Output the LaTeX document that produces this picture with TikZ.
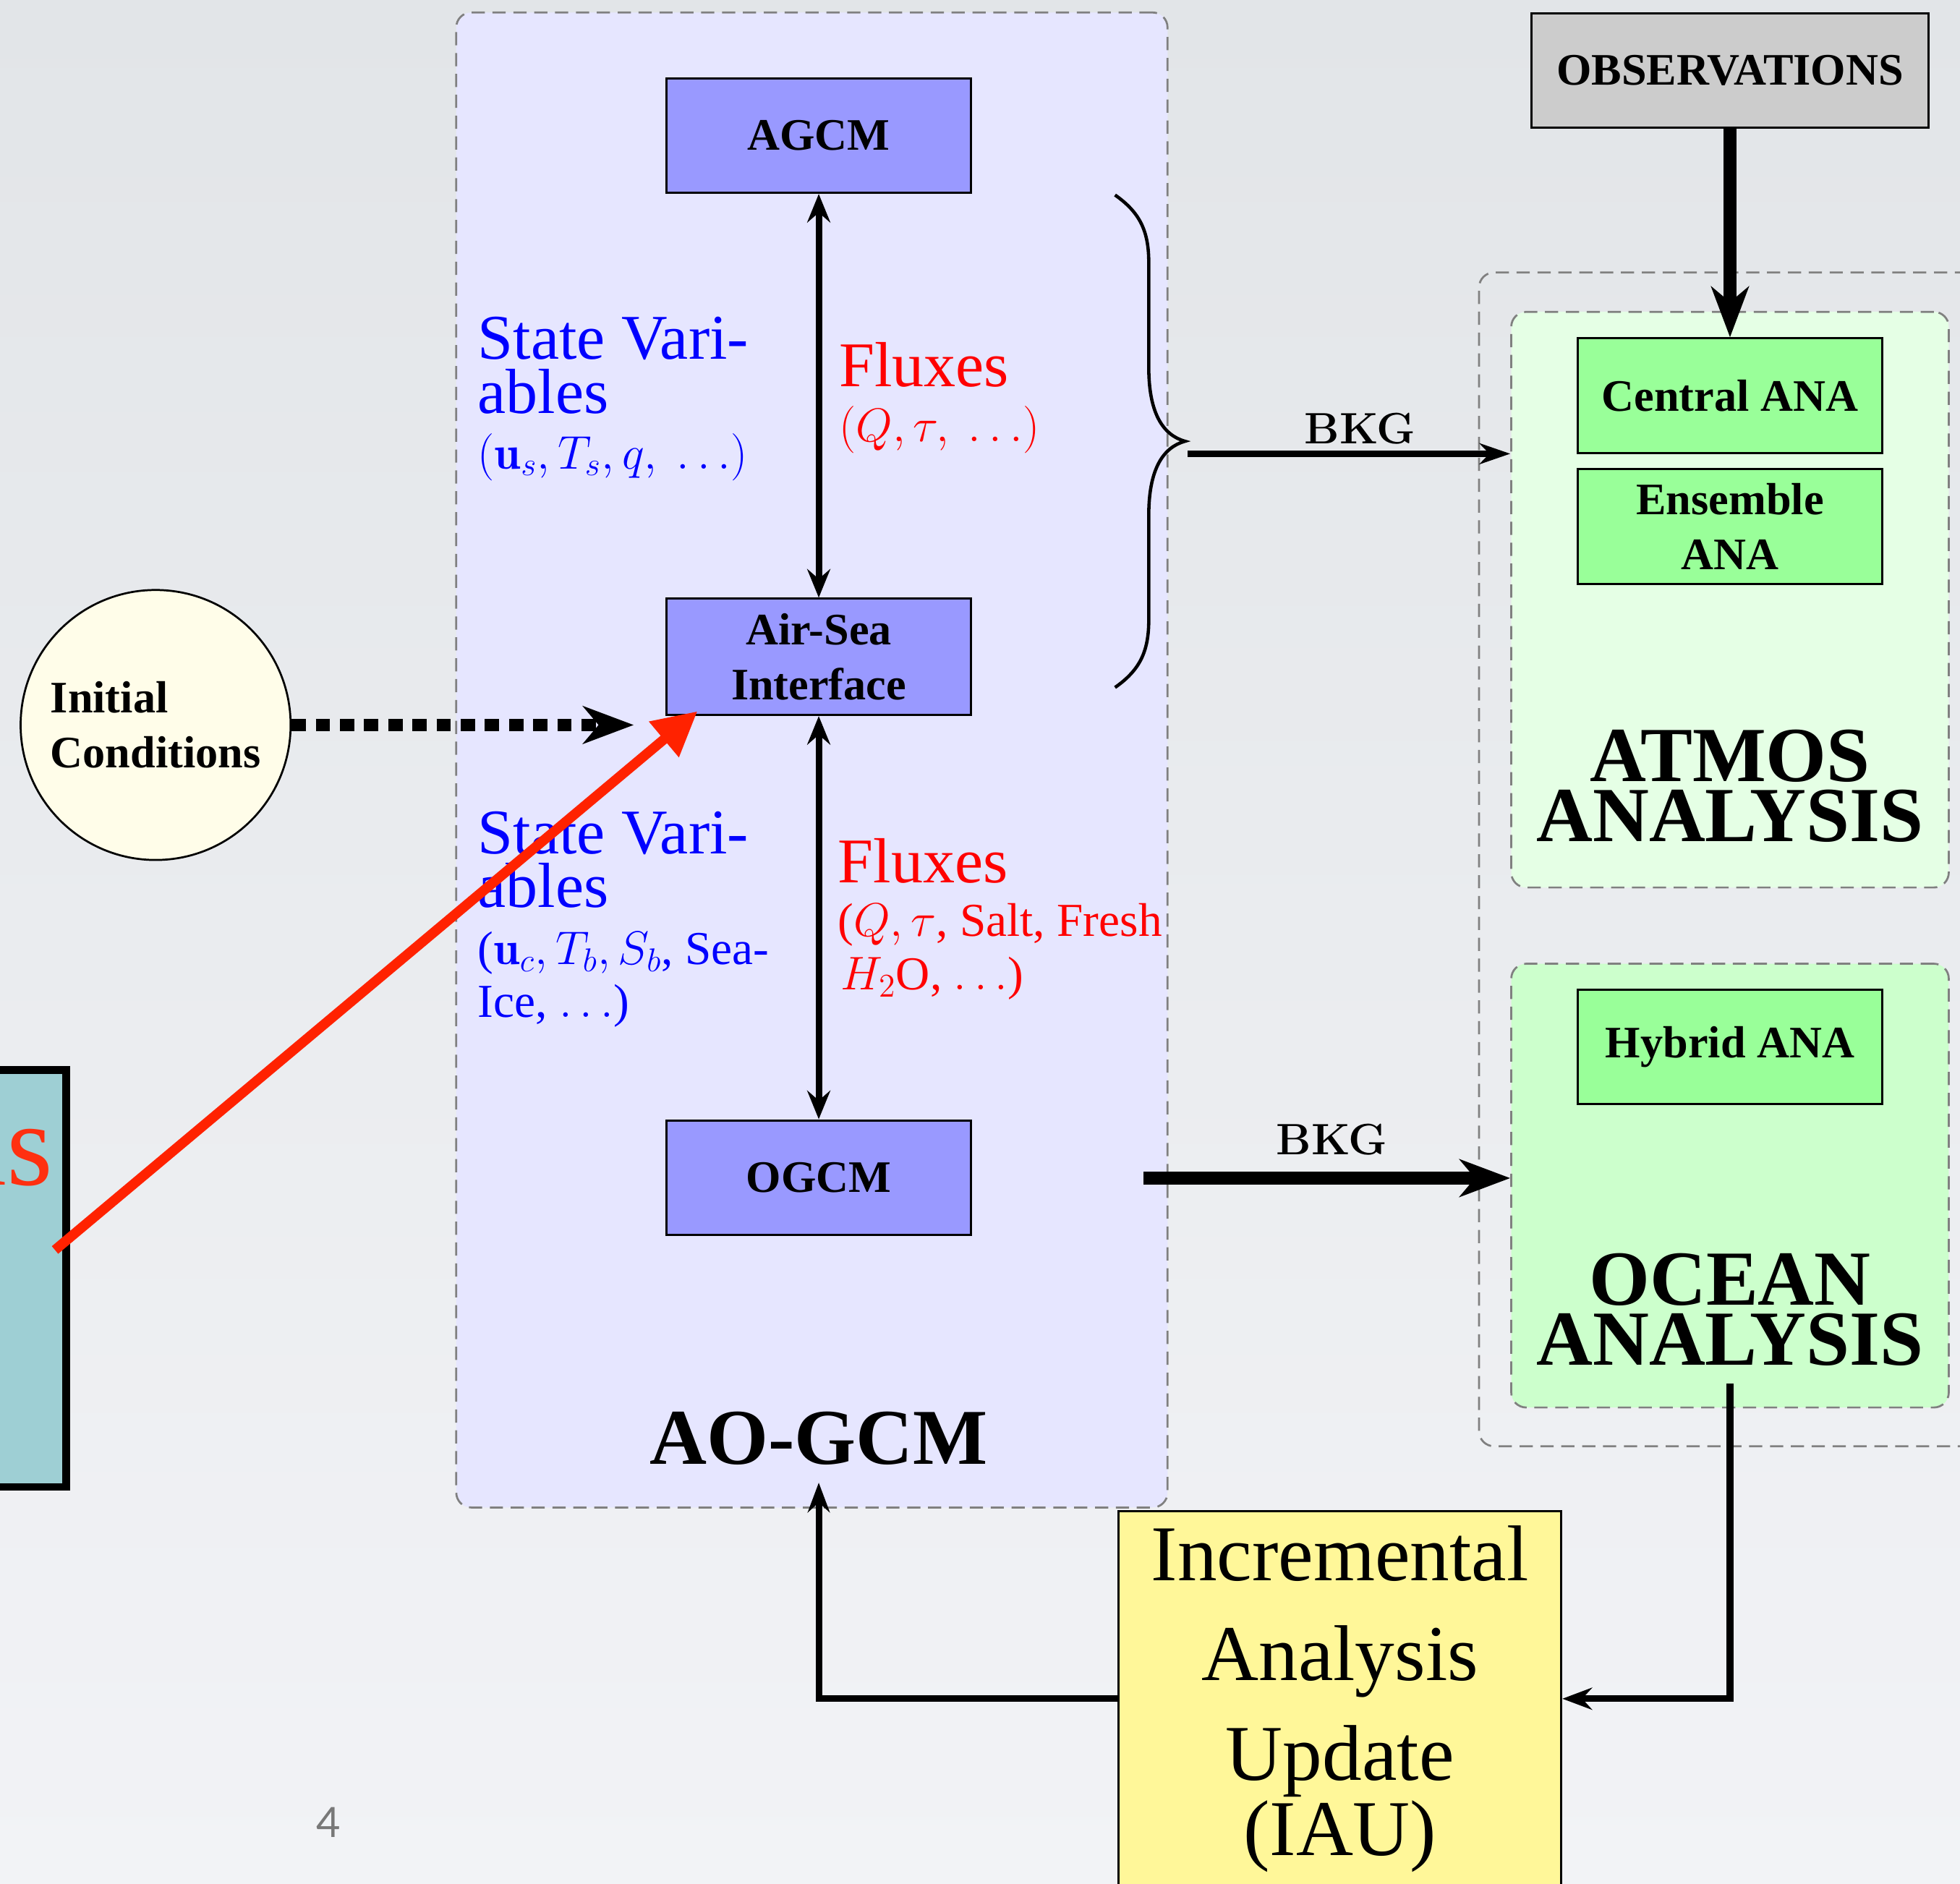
\documentclass[tikz,border=0pt]{standalone}
\usepackage{fix-cm}
\usepackage{fontspec}
\usepackage{xcolor}
\newfontfamily\timesfont{Liberation Serif}
\newfontfamily\pagenumfont{Lato}
\definecolor{bgtop}{RGB}{226,229,232}
\definecolor{bgbot}{RGB}{242,243,246}
\definecolor{lavender}{RGB}{230,230,255}
\definecolor{modelblue}{RGB}{153,153,255}
\definecolor{atmosgreen}{RGB}{229,255,229}
\definecolor{oceangreen}{RGB}{204,255,204}
\definecolor{anagreen}{RGB}{153,255,153}
\definecolor{obsgray}{RGB}{204,204,204}
\definecolor{iauyellow}{RGB}{255,247,153}
\definecolor{icivory}{RGB}{255,253,233}
\definecolor{tealbox}{RGB}{158,207,212}
\definecolor{arrowred}{RGB}{255,34,0}
\definecolor{isred}{RGB}{255,48,16}
\definecolor{dashgray}{RGB}{128,128,128}
\definecolor{pagegray}{RGB}{120,120,120}
\usetikzlibrary{arrows.meta, positioning}

\begin{document}
\begin{tikzpicture}[
            x=0.2mm, y=-0.2mm,
            groupbox/.style={draw=dashgray, line width=0.9pt, dash pattern=on 6pt off 3.5pt, rounded corners=6.8pt},
            modelbox/.style={draw=black, line width=1pt, fill=modelblue, minimum width=48.8mm, minimum height=18.3mm, align=center, inner sep=0pt, font=\timesfont\bfseries\fontsize{20.5}{25}\selectfont},
            anabox/.style={modelbox, fill=anagreen},
            biglabel/.style={align=center, inner sep=8pt, font=\timesfont\bfseries\fontsize{35.5}{27.3}\selectfont},
            statelabel/.style={anchor=base west, inner sep=0pt, text=blue, font=\timesfont\fontsize{29}{29}\selectfont},
            statemath/.style={statelabel, font=\timesfont\fontsize{21.5}{21.5}\selectfont},
            fluxlabel/.style={statelabel, text=red},
            fluxmath/.style={statemath, text=red},
            bkglabel/.style={anchor=base, inner sep=0pt, font=\bfseries\fontsize{20}{20}\selectfont},
            coupling/.style={line width=3pt, {Stealth[length=13pt, width=10.5pt, inset=4.5pt]}-{Stealth[length=13pt, width=10.5pt, inset=4.5pt]}},
            thinarrow/.style={line width=3pt, -{Stealth[length=13.5pt, width=10pt, inset=4.5pt]}},
            thickarrow/.style={line width=5.7pt, -{Stealth[length=23pt, width=17pt, inset=7pt]}}
            ]

            % Page and background
            \useasboundingbox (0,0) rectangle (1568,1507);
            \shade[top color=bgtop, bottom color=bgbot] (0,0) rectangle (1568,1507);

            % Slide box on the left
            \node[draw=black, line width=3.4pt, fill=tealbox, minimum width=18.6mm, minimum height=66.7mm] (leftbox) at (6.5,1022.75) {};
            \node[anchor=base east, inner sep=0pt, text=isred, font=\timesfont\fontsize{54}{54}\selectfont] (istext) at (43,948) {is};

            % AO-GCM
            \node[groupbox, fill=lavender, minimum width=113.8mm, minimum height=239.2mm] (aogcmbox) at (649.5,608) {};
            \node[modelbox] (agcm) at (655,108.5) {AGCM};
            \node[modelbox, minimum height=18.6mm] (airsea) at (655,525.5) {Air-Sea\\Interface};
            \node[modelbox] (ogcm) at (655,942) {OGCM};
            \node[biglabel, font=\timesfont\bfseries\fontsize{36}{36}\selectfont] (aolabel) at (655,1150.5) {AO-GCM};
            \draw[coupling] (agcm) -- (airsea);
            \draw[coupling] (airsea) -- (ogcm);

            % State variables and fluxes
            \node[statelabel] (svatm1) at (382,287) {State Vari-};
            \node[statelabel] (svatm2) at (382,330.5) {ables};
            \node[statemath] (svatm3) at (382,375) {$(\mathbf{u}_s, T_s, q,\ \ldots)$};
            \node[fluxlabel] (fxatm1) at (671,309) {Fluxes};
            \node[fluxmath] (fxatm2) at (671,353) {$(Q, \tau,\ \ldots)$};
            \node[statelabel] (svocn1) at (382,683) {State Vari-};
            \node[statelabel] (svocn2) at (382,726) {ables};
            \node[statemath] (svocn3) at (382,771.5) {($\mathbf{u}_c, T_b, S_b$, Sea-};
            \node[statemath] (svocn4) at (382,814) {Ice, $\ldots$)};
            \node[fluxlabel] (fxocn1) at (670,706) {Fluxes};
            \node[fluxmath] (fxocn2) at (670,749) {($Q, \tau$, Salt, Fresh};
            \node[fluxmath] (fxocn3) at (672,792) {$H_2$O, $\ldots$)};

            % Initial conditions
            \node[circle, draw=black, line width=0.9pt, fill=icivory, minimum size=43.2mm, inner sep=0pt, align=left, font=\timesfont\bfseries\fontsize{20.5}{25}\selectfont] (ic) at (124.5,580) {Initial\\Conditions};
            \coordinate (icend) at (507,580);
            \draw[line width=5.4pt, dash pattern=on 6.5pt off 4.5pt, -{Stealth[length=23pt, width=17pt, inset=7pt]}] (ic) -- (icend);

            % Analysis side
            \node[groupbox, minimum width=87.3mm, minimum height=187.8mm] (anagroup) at (1401.5,687.5) {};
            \node[groupbox, fill=atmosgreen, minimum width=70mm, minimum height=92.1mm] (atmos) at (1384,479.75) {};
            \node[anabox] (central) at (1384,316.5) {Central ANA};
            \node[anabox, minimum height=18.4mm] (ensemble) at (1384,421) {Ensemble\\ANA};
            \node[biglabel] (atmoslabel) at (1384,629) {ATMOS\\ANALYSIS};
            \node[groupbox, fill=oceangreen, minimum width=70mm, minimum height=71mm] (ocean) at (1384,948.5) {};
            \node[anabox] (hybrid) at (1384,837.5) {Hybrid ANA};
            \node[biglabel] (oceanlabel) at (1384,1047.5) {OCEAN\\ANALYSIS};

            % Observations
            \node[anabox, fill=obsgray, minimum width=63.6mm] (obs) at (1384,56.3) {OBSERVATIONS};
            \draw[thickarrow, line width=5.9pt] (obs) -- (central);

            % Background fields
            \coordinate (bracetop) at (892,156);
            \coordinate (bracetip) at (948,353);
            \coordinate (bracebot) at (892,550);
            \draw[line width=1.5pt] (bracetop) .. controls (912,170) and (919,185) .. (919,210) -- (919,294)
                .. controls (919,330) and (930,348) .. (bracetip)
                .. controls (930,358) and (919,376) .. (919,412) -- (919,496)
                .. controls (919,521) and (912,536) .. (bracebot);
            \coordinate (bkgatm) at (950,363);
            \draw[line width=2.9pt, -{Stealth[length=14pt, width=9.5pt, inset=4.5pt]}] (bkgatm) -- (bkgatm -| atmos.west);
            \node[bkglabel] (bkgatmlabel) at (1088,355) {BKG};
            \coordinate (bkgocn) at (915,942.5);
            \draw[thickarrow] (bkgocn) -- (bkgocn -| ocean.west);
            \node[bkglabel] (bkgocnlabel) at (1065.5,924) {BKG};

            % IAU
            \node[draw=black, line width=1pt, fill=iauyellow, minimum width=70.8mm, minimum height=60mm, align=center, font=\timesfont\fontsize{36}{45.5}\selectfont] (iau) at (1072,1359) {Incremental\\Analysis\\Update\\[-11.4pt](IAU)};
            \draw[thinarrow] (oceanlabel.south) |- (iau.east);
            \draw[thinarrow] (iau.west) -| (aolabel.south);

            % Pointer
            \coordinate (redstart) at (44,1000);
            \coordinate (redend) at (558,569);
            \draw[arrowred, line width=4.5pt, -{Triangle[length=20pt, width=20pt]}] (redstart) -- (redend);

            \node[text=pagegray, inner sep=0pt, font=\pagenumfont\fontsize{19}{19}\selectfont] (pagenum) at (263,1458) {4};
\end{tikzpicture}
\end{document}
